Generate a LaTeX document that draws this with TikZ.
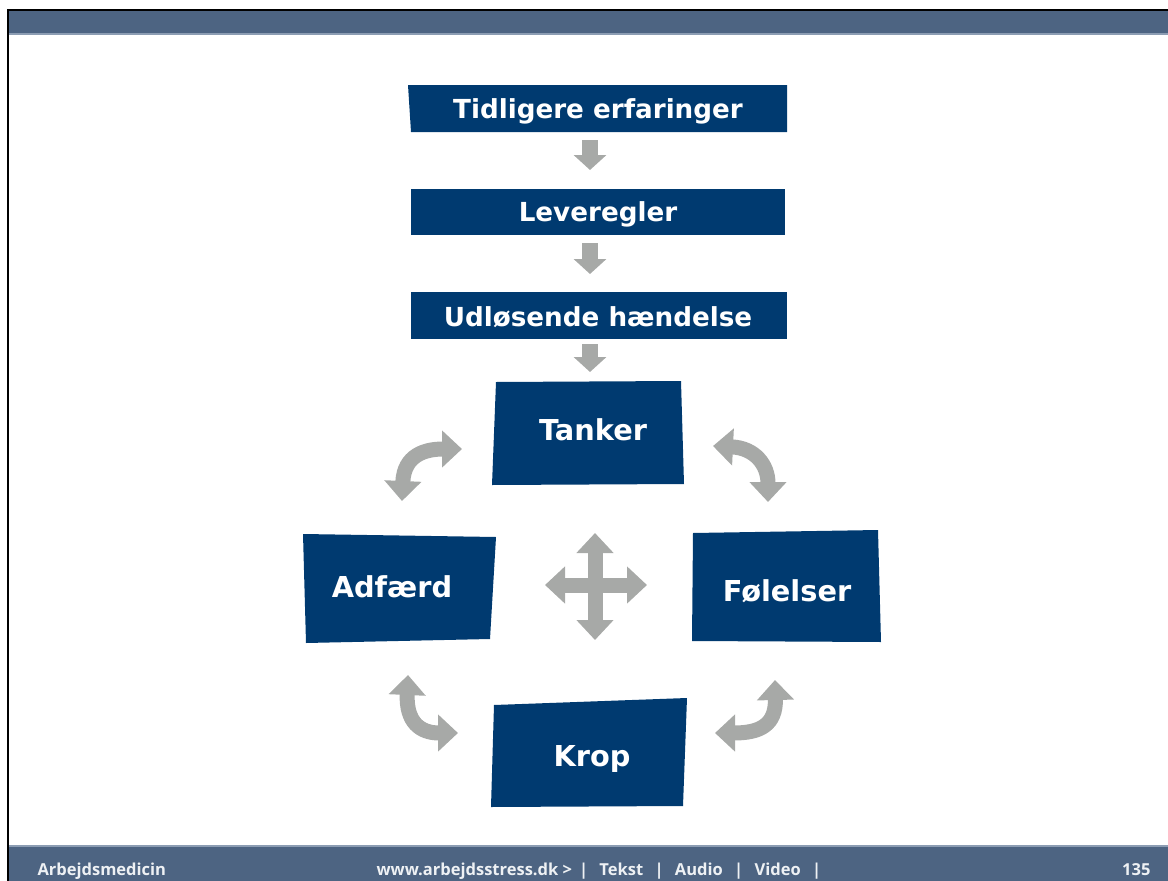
\documentclass[tikz,border=0pt]{standalone}
\usepackage{fontspec}
\setmainfont{Open Sans}
\newfontfamily\feltfont{DejaVu Sans}
\usetikzlibrary{arrows.meta}
\definecolor{navy}{HTML}{003A70}
\definecolor{slate}{HTML}{4D6482}
\definecolor{kant}{HTML}{8C9DB3}
\definecolor{pil}{HTML}{A7A9A7}
\definecolor{fod}{HTML}{EEF1F4}
\begin{document}
\begin{tikzpicture}[x=1pt,y=-1pt,
	felt/.style={fill=navy},
	lille/.style={text=white,font=\feltfont\fontsize{26.2}{26.2}\selectfont\bfseries},
	stor/.style={text=white,font=\feltfont\fontsize{28.8}{28.8}\selectfont\bfseries},
	fodtekst/.style={text=fod,anchor=base west,font=\fontsize{16.5}{16.5}\selectfont\bfseries},
	ned/.style={draw=pil,line width=16pt,-{Triangle[length=15pt,width=32pt]}},
	bue/.style={draw=pil,line width=15pt,{Triangle[length=20pt,width=36pt]}-{Triangle[length=20pt,width=36pt]}}]
	\useasboundingbox (0,0) rectangle (1168,881);
	% ramme og bjælker
	\fill[slate] (9,11) rectangle (1168,34);
	\fill[kant] (9,33) rectangle (1168,35);
	\fill[slate] (9,846) rectangle (1168,881);
	\fill[kant] (9,845) rectangle (1168,847);
	\draw[line width=1.6pt] (8,881)--(8,10)--(1168,10);
	\path
	(408,85) coordinate (T1) (787,85) coordinate (T2) (787,132) coordinate (T3) (411,132) coordinate (T4)
	(411,189) coordinate (L1) (785,189) coordinate (L2) (785,235) coordinate (L3) (411,235) coordinate (L4)
	(411,292) coordinate (U1) (787,292) coordinate (U2) (787,339) coordinate (U3) (411,339) coordinate (U4)
	(496,382) coordinate (K1) (681,381) coordinate (K2) (684,484) coordinate (K3) (492,485) coordinate (K4)
	(303,534) coordinate (A1) (496,537) coordinate (A2) (490,639) coordinate (A3) (306,643) coordinate (A4)
	(693,533) coordinate (F1) (878,530) coordinate (F2) (881,642) coordinate (F3) (692,641) coordinate (F4)
	(494,705) coordinate (R1) (687,698) coordinate (R2) (683,806) coordinate (R3) (491,807) coordinate (R4);
	\foreach \b in {T,L,U,K,A,F,R}
	\fill[felt] (\b1)--(\b2)--(\b3)--(\b4)--cycle;
	% tekster
	\foreach \n/\p/\t in {tidligere/{598,118}/Tidligere erfaringer,leveregler/{598,221}/Leveregler,udlosende/{598,326}/Udløsende hændelse}
	\node[lille,anchor=base] (\n) at (\p) {\t};
	\foreach \n/\p/\t in {tanker/{593,440}/Tanker,adfaerd/{392,597}/Adfærd,folelser/{787,601}/Følelser,krop/{592,766}/Krop}
	\node[stor,anchor=base] (\n) at (\p) {\t};
	% pile
	\path (590,140) coordinate (n1) (590,170) coordinate (n2)
	(590,243) coordinate (n3) (590,274) coordinate (n4)
	(590,344) coordinate (n5) (590,372) coordinate (n6);
	\foreach \i/\j in {n1/n2,n3/n4,n5/n6}
	\draw[ned] (\i)--(\j);
	\path (402,501) coordinate (a1) (462,449) coordinate (a2)
	(713,446) coordinate (b1) (768,502) coordinate (b2)
	(408,675) coordinate (c1) (458,733) coordinate (c2)
	(775,680) coordinate (d1) (715,733) coordinate (d2)
	(595,533) coordinate (m1) (595,640) coordinate (m2) (545,585) coordinate (m3) (647,585) coordinate (m4);
	\draw[bue] (a1) .. controls (404,455) and (425,449) .. (a2);
	\draw[bue] (b1) .. controls (755,448) and (768,465) .. (b2);
	\draw[bue] (c1) .. controls (406,722) and (420,733) .. (c2);
	\draw[bue] (d1) .. controls (776,725) and (760,733) .. (d2);
	\draw[bue] (m1)--(m2);
	\draw[bue] (m3)--(m4);
	% fod
	\node[fodtekst] (afd) at (34,875) {Arbejdsmedicin};
	\node[fodtekst] (web) at (373,875) {www.arbejdsstress.dk >\ \,|\ \ \,Tekst\ \ \,|\ \ \,Audio\ \ \,|\ \ \,Video\ \ \,|};
	\node[fodtekst,anchor=base east] (side) at (1154,875) {135};
\end{tikzpicture}
\end{document}
